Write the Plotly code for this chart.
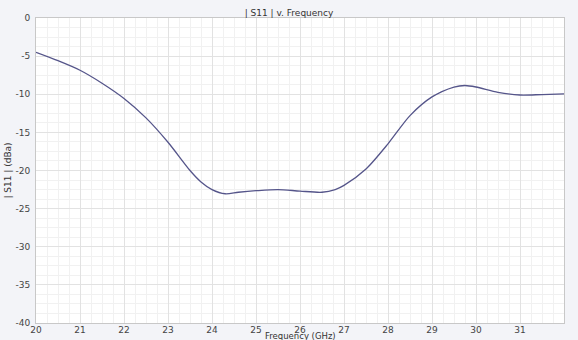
import plotly.graph_objects as go

freq_ghz = [20.0, 20.5, 21.0, 21.5, 22.0, 22.5, 23.0, 23.5, 23.75, 24.0, 24.3, 24.6, 25.0, 25.5,
            26.0, 26.5, 26.8, 27.0, 27.5, 28.0, 28.5, 29.0, 29.5, 29.75, 30.0, 30.5, 31.0, 31.5, 32.0]
s11_db = [-4.5, -5.6, -6.85, -8.55, -10.55, -13.1, -16.3, -20.0, -21.5, -22.5, -23.05, -22.85, -22.65, -22.5,
          -22.7, -22.85, -22.5, -21.95, -19.8, -16.5, -12.8, -10.35, -9.05, -8.85, -9.05, -9.75, -10.1, -10.04, -9.96]

x_ticks = [20, 21, 22, 23, 24, 25, 26, 27, 28, 29, 30, 31]
y_ticks = [0, -5, -10, -15, -20, -25, -30, -35, -40]

fig = go.Figure()
fig.add_trace(go.Scatter(
    x=freq_ghz, y=s11_db, mode="lines",
    line=dict(color="#55558a", width=1.3, shape="spline", smoothing=0.8),
    hoverinfo="skip", showlegend=False,
))

axis_common = dict(
    showline=True, linecolor="#c8c8c8", linewidth=1, mirror=True,
    gridcolor="#e2e2e2", gridwidth=1, zeroline=False, automargin=False,
    ticks="", tickfont=dict(family="DejaVu Sans", size=9, color="#444444"),
)

fig.update_xaxes(
    range=[20, 32], tickvals=x_ticks, ticktext=[str(v) for v in x_ticks],
    minor=dict(dtick=0.25, showgrid=True, gridcolor="#f1f1f1", gridwidth=1),
    ticklabelstandoff=-2,
    **axis_common,
)
fig.update_yaxes(
    range=[-40, 0], tickvals=y_ticks, ticktext=[str(v) for v in y_ticks],
    title=dict(text="| S11 | (dBa)", font=dict(family="DejaVu Sans", size=9, color="#333333"), standoff=2),
    minor=dict(dtick=1.25, showgrid=True, gridcolor="#f1f1f1", gridwidth=1),
    ticklabelstandoff=3,
    **axis_common,
)

fig.add_annotation(
    text="Frequency (GHz)", xref="paper", yref="paper", x=0.5, y=0,
    xanchor="center", yanchor="top", yshift=-6, showarrow=False,
    font=dict(family="DejaVu Sans", size=8.5, color="#333333"),
)

fig.update_layout(
    width=578, height=340,
    margin=dict(l=36, r=14, t=18, b=17, autoexpand=False),
    paper_bgcolor="#f3f4f8", plot_bgcolor="#ffffff",
    title=dict(text="| S11 | v. Frequency", x=0.5, xanchor="center", y=0.962, yanchor="middle",
               automargin=False,
               font=dict(family="DejaVu Sans", size=9, color="#333333")),
)

fig.write_html("out.html", config={"displayModeBar": False},
               post_script="document.body.style.margin='0';document.body.style.overflow='hidden';")
